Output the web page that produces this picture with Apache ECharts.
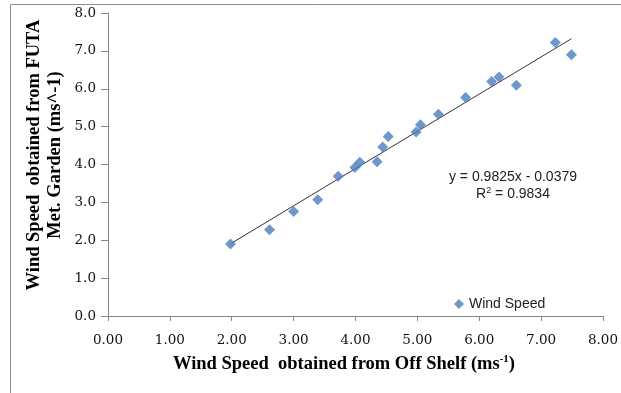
<!DOCTYPE html>
<html>
<head>
<meta charset="utf-8">
<script src="https://cdn.jsdelivr.net/npm/echarts@6/dist/echarts.min.js"></script>
<style>
html,body{margin:0;padding:0;background:#fff;}
#chart{width:621px;height:393px;}
</style>
</head>
<body>
<div id="chart"></div>
<script>
// Data
var offShelf = [1.98, 2.61, 3.00, 3.39, 3.72, 3.99, 4.07, 4.35, 4.44, 4.53, 4.98, 5.05, 5.34, 5.78, 6.20, 6.32, 6.60, 7.23, 7.49];
var futa     = [1.90, 2.28, 2.76, 3.07, 3.69, 3.92, 4.06, 4.07, 4.46, 4.74, 4.86, 5.05, 5.33, 5.77, 6.19, 6.31, 6.09, 7.22, 6.90];
var trendSlope = [0.9825];
var trendIntercept = [-0.0379];
var rSquared = [0.9834];
var xTicks = [0, 1, 2, 3, 4, 5, 6, 7, 8];
var yTicks = [0, 1, 2, 3, 4, 5, 6, 7, 8];

var points = offShelf.map(function (x, i) { return [x, futa[i]]; });
var xMin = Math.min.apply(null, offShelf), xMax = Math.max.apply(null, offShelf);
var trend = [xMin, xMax].map(function (x) { return [x, trendSlope[0] * x + trendIntercept[0]]; });

var chart = echarts.init(document.getElementById('chart'), null, {renderer: 'canvas'});
var axisColor = '#868686';
chart.setOption({
  animation: false,
  backgroundColor: '#ffffff',
  grid: {left: 108, right: 11, top: 13, bottom: 77, containLabel: false},
  xAxis: {
    type: 'value', min: xTicks[0], max: xTicks[xTicks.length - 1], interval: 1,
    axisLine: {show: true, onZero: false, lineStyle: {color: axisColor, width: 1}},
    axisTick: {show: true, inside: false, length: 5, lineStyle: {color: axisColor}},
    splitLine: {show: false},
    axisLabel: {
      margin: 17, color: '#111', fontFamily: 'DejaVu Serif', fontSize: 13.5,
      formatter: function (v) { return v.toFixed(2); }
    }
  },
  yAxis: {
    type: 'value', min: yTicks[0], max: yTicks[yTicks.length - 1], interval: 1,
    axisLine: {show: true, onZero: false, lineStyle: {color: axisColor, width: 1}},
    axisTick: {show: true, inside: false, length: 7, lineStyle: {color: axisColor}},
    splitLine: {show: false},
    axisLabel: {
      margin: 12, color: '#111', fontFamily: 'DejaVu Serif', fontSize: 13.5,
      formatter: function (v) { return v.toFixed(1); }
    }
  },
  legend: {
    data: [{name: 'Wind Speed', icon: 'diamond'}],
    left: 449, top: 292,
    itemWidth: 10, itemHeight: 10, itemGap: 4,
    textStyle: {fontFamily: 'Liberation Sans', fontSize: 14, color: '#222'}
  },
  series: [
    {
      name: 'Wind Speed', type: 'scatter', data: points,
      symbol: 'diamond', symbolSize: 11,
      itemStyle: {color: '#4A7EBB'}, z: 3
    },
    {
      name: 'trend', type: 'line', data: trend,
      symbol: 'none', lineStyle: {color: '#333', width: 1}, z: 2,
      silent: true
    }
  ],
  graphic: [
    {
      type: 'rect', shape: {x: 10.5, y: 4.5, width: 700, height: 500},
      style: {fill: 'none', stroke: '#8c8c8c', lineWidth: 1}, silent: true, z: -1
    },
    {
      type: 'text', x: 513, y: 177,
      style: {
        text: 'y = ' + trendSlope[0].toFixed(4) + 'x - ' + Math.abs(trendIntercept[0]).toFixed(4),
        fontFamily: 'Liberation Sans', fontSize: 14, fill: '#222',
        align: 'center', verticalAlign: 'middle'
      }
    },
    {
      type: 'text', x: 513, y: 194,
      style: {
        text: '{n|R}{s|2}{n| = ' + rSquared[0].toFixed(4) + '}',
        rich: {
          n: {fontFamily: 'Liberation Sans', fontSize: 14, fill: '#222'},
          s: {fontFamily: 'Liberation Sans', fontSize: 9, fill: '#222', padding: [0, 0, 7, 0]}
        },
        align: 'center', verticalAlign: 'middle'
      }
    },
    {
      type: 'text', x: 344, y: 364,
      style: {
        text: '{b|Wind Speed  obtained from Off Shelf (ms}{s|-1}{b|)}',
        rich: {
          b: {fontFamily: 'Liberation Serif', fontWeight: 'bold', fontSize: 18.5, fill: '#000'},
          s: {fontFamily: 'Liberation Serif', fontWeight: 'bold', fontSize: 11, fill: '#000', padding: [0, 0, 9, 0]}
        },
        align: 'center', verticalAlign: 'middle'
      }
    },
    {
      type: 'text', x: 45, y: 155, rotation: Math.PI / 2,
      style: {
        text: 'Wind Speed  obtained from FUTA\nMet. Garden (ms^-1)',
        fontFamily: 'Liberation Serif', fontWeight: 'bold', fontSize: 18.5, lineHeight: 21, fill: '#000',
        align: 'center', verticalAlign: 'middle'
      }
    }
  ]
});
</script>
</body>
</html>
